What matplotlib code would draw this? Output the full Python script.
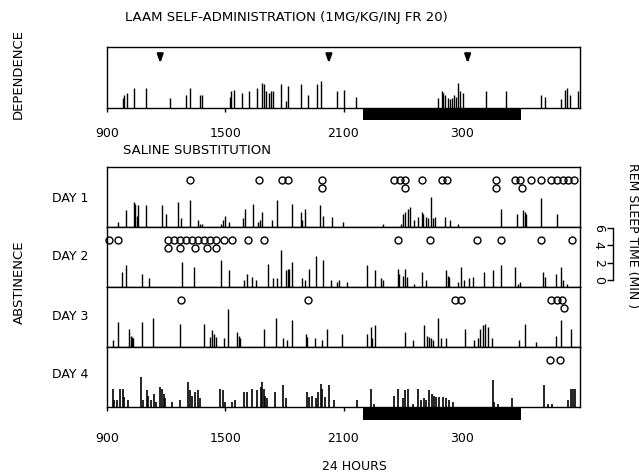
import matplotlib
matplotlib.use('Agg')
import matplotlib.pyplot as plt

# hours after 09:00, REM episode length in minutes
dep_t = [0.80, 0.87, 1.00, 1.37, 1.97, 3.21, 4.02, 4.19, 4.73, 4.80, 6.23, 6.31, 6.43, 6.84,
         7.21, 7.62, 7.84, 7.96, 8.07, 8.21, 8.33, 8.43, 8.82, 9.09, 9.19, 9.82, 10.18, 10.64,
         10.84, 11.65, 12.04, 12.65, 16.78, 16.98, 17.07, 17.17, 17.29, 17.39, 17.49, 17.59,
         17.69, 17.83, 17.93, 18.05, 19.24, 20.22, 22.00, 22.21, 23.05, 23.22, 23.36, 23.48, 23.90]
dep_h = [1.2, 1.5, 1.7, 2.3, 2.3, 1.1, 1.5, 2.3, 1.5, 1.5, 1.3, 1.9, 2.1, 1.7,
         1.9, 2.3, 2.9, 2.7, 1.9, 1.7, 1.9, 1.9, 2.7, 0.8, 2.5, 2.7, 1.5, 2.7,
         3.1, 1.9, 2.1, 1.3, 1.2, 1.9, 1.7, 1.5, 1.2, 1.0, 1.2, 1.5,
         1.3, 2.9, 1.9, 1.7, 1.9, 1.9, 1.5, 1.3, 1.0, 2.1, 2.3, 1.5, 1.9]
injections = [2.70, 11.26, 18.30]

day1_t = [0.58, 0.97, 1.37, 1.44, 1.51, 1.59, 1.98, 2.80, 2.97, 3.60, 3.78, 4.19, 4.60, 4.73,
          4.82, 5.78, 5.89, 5.99, 6.17, 6.90, 6.99, 7.41, 7.67, 7.74, 7.84, 8.38, 8.63, 9.40,
          9.82, 9.89, 10.03, 10.81, 10.98, 11.43, 11.99, 13.98, 14.91, 15.00, 15.12, 15.27,
          15.39, 15.59, 15.79, 15.96, 16.03, 16.18, 16.29, 16.42, 16.54, 16.62, 17.17, 17.39,
          17.80, 20.00, 20.82, 21.10, 21.19, 21.27, 22.00, 22.83]
day1_h = [0.6, 1.9, 2.9, 2.7, 1.3, 2.5, 2.5, 2.5, 1.5, 2.9, 1.0, 3.1, 0.8, 0.4,
          0.3, 0.4, 0.8, 1.3, 0.6, 1.0, 2.1, 2.7, 0.6, 0.8, 1.7, 0.8, 3.1, 2.7,
          1.7, 0.8, 2.1, 2.5, 1.3, 1.2, 0.6, 0.3, 0.4, 1.5, 1.7, 2.1,
          2.3, 0.8, 1.2, 1.7, 1.5, 1.2, 1.0, 3.5, 1.0, 1.2, 1.2, 0.8,
          0.4, 2.1, 1.5, 1.9, 1.7, 1.5, 3.3, 1.5]
day1_ct = [4.19, 7.72, 8.89, 9.19, 10.92, 10.92, 14.57, 14.86, 15.11, 15.11, 15.96, 16.98,
           17.24, 19.75, 19.75, 20.68, 20.98, 21.07, 21.53, 22.00, 22.54, 22.85, 23.14,
           23.39, 23.70]
day1_cl = [0, 0, 0, 0, 0, 1, 0, 0, 0, 1, 0, 0,
           0, 0, 1, 0, 0, 1, 0, 0, 0, 0, 0,
           0, 0]

day2_t = [0.75, 0.97, 1.76, 2.15, 3.80, 4.39, 5.78, 6.17, 6.94, 7.11, 7.36, 7.57, 8.18, 8.40,
          8.63, 8.84, 9.09, 9.18, 9.26, 9.40, 9.89, 10.03, 10.25, 10.59, 10.98, 11.38, 11.65,
          11.79, 12.16, 13.18, 13.59, 13.89, 13.98, 14.74, 14.83, 15.00, 15.12, 15.22, 15.59,
          15.96, 16.18, 17.20, 17.29, 17.37, 17.80, 17.96, 18.13, 18.35, 18.56, 19.15, 19.61,
          20.00, 20.68, 20.85, 20.98, 22.12, 22.21, 22.80, 23.05, 23.14, 23.34]
day2_h = [1.7, 2.5, 1.5, 1.0, 2.9, 2.3, 3.1, 1.9, 0.8, 1.5, 1.2, 0.8, 2.7, 1.0,
          1.0, 4.2, 1.9, 2.1, 2.1, 2.9, 1.0, 0.8, 2.1, 3.6, 3.1, 0.8, 0.6,
          0.8, 0.6, 2.5, 1.9, 1.0, 0.8, 2.1, 1.5, 1.3, 2.1, 1.2, 0.4,
          1.7, 0.8, 1.9, 1.3, 1.2, 0.6, 2.3, 0.8, 1.0, 1.2, 1.7, 1.9,
          2.5, 2.3, 0.4, 0.6, 1.7, 1.2, 1.5, 2.3, 0.8, 0.4]
day2_ct = [0.12, 0.54, 3.12, 3.41, 3.72, 4.02, 4.33, 4.63, 4.94, 5.24, 5.55, 5.95, 6.34,
           7.16, 7.96, 14.79, 16.39, 18.76, 19.97, 22.00, 23.60,
           3.12, 3.72, 4.44, 5.07, 5.55]
day2_cl = [0, 0, 0, 0, 0, 0, 0, 0, 0, 0, 0, 0, 0,
           0, 0, 0, 0, 0, 0, 0, 0,
           1, 1, 1, 1, 1]

day3_t = [0.29, 0.54, 1.12, 1.20, 1.29, 1.34, 1.76, 2.32, 3.72, 4.94, 5.24, 5.34, 5.41, 5.53,
          5.92, 6.14, 6.60, 6.70, 6.77, 7.96, 8.55, 8.94, 9.14, 9.38, 10.08, 10.16, 10.55,
          10.92, 11.15, 11.94, 13.18, 13.38, 13.47, 13.59, 15.13, 15.54, 16.10, 16.22, 16.35,
          16.44, 16.56, 16.78, 16.95, 17.20, 18.17, 18.64, 18.81, 18.93, 19.07, 19.19, 19.32,
          19.53, 20.93, 21.19, 21.78, 22.80, 23.02, 23.56]
day3_h = [0.8, 2.9, 2.1, 1.3, 1.2, 1.0, 2.9, 3.3, 2.7, 2.7, 1.2, 1.9, 1.5, 1.2,
          1.0, 4.4, 1.7, 1.3, 1.0, 2.1, 3.3, 1.0, 0.8, 3.1, 1.5, 1.2, 1.0,
          0.8, 2.1, 1.5, 1.5, 2.3, 1.0, 2.5, 1.7, 0.8, 2.5, 1.3, 1.2,
          1.0, 0.8, 3.3, 1.0, 1.0, 2.1, 0.8, 1.0, 2.1, 2.5, 2.7, 2.3,
          1.0, 0.8, 2.7, 0.6, 1.3, 3.1, 2.1]
day3_ct = [3.77, 10.20, 17.68, 17.96, 22.54, 22.83, 23.10, 23.19]
day3_cl = [0, 0, 0, 0, 0, 0, 0, 1]

day4_t = [0.29, 0.37, 0.49, 0.66, 0.80, 0.88, 1.09, 1.71, 1.82, 2.02, 2.10, 2.22, 2.36, 2.49,
          2.70, 2.78, 2.87, 2.95, 3.29, 3.72, 4.09, 4.19, 4.31, 4.48, 4.60, 4.70, 5.75, 5.89,
          5.97, 6.34, 6.51, 6.94, 7.11, 7.36, 7.62, 7.79, 7.87, 7.96, 8.04, 8.13, 8.52, 8.92,
          9.06, 10.13, 10.25, 10.38, 10.59, 10.70, 10.84, 10.92, 11.04, 11.26, 11.52, 12.71,
          13.42, 13.55, 14.54, 14.74, 15.00, 15.13, 15.27, 15.51, 15.76, 15.93, 16.06, 16.18,
          16.35, 16.47, 16.61, 16.69, 16.86, 17.03, 17.20, 17.37, 17.54, 19.58, 19.66, 19.83,
          20.54, 22.17, 22.38, 22.60, 23.39, 23.56, 23.65, 23.77]
day4_h = [2.1, 0.8, 0.8, 2.1, 2.1, 1.2, 0.8, 3.5, 0.8, 1.9, 1.3, 0.8, 1.5, 0.6,
          2.3, 2.1, 1.5, 1.0, 0.6, 0.8, 2.9, 1.9, 1.3, 1.7, 1.9, 1.0, 2.1, 1.9,
          0.6, 0.6, 0.8, 1.7, 1.7, 2.1, 1.9, 2.3, 2.9, 2.1, 1.3, 1.0, 1.7, 2.5,
          1.0, 1.7, 1.2, 1.3, 1.0, 1.7, 2.7, 2.1, 1.2, 2.5, 0.8, 0.8,
          2.1, 0.4, 1.3, 2.1, 1.0, 1.9, 2.1, 0.4, 2.1, 0.8, 1.0, 0.8,
          1.9, 1.5, 1.3, 1.2, 1.2, 1.2, 1.0, 0.8, 0.6, 3.1, 0.6, 0.4,
          1.0, 2.5, 0.4, 0.4, 0.8, 2.1, 2.1, 2.1]
day4_ct = [22.46, 22.97]
day4_cl = [0, 0]

dark_start, dark_end = 13.0, 21.0
hour_ticks = [0, 6, 12, 18]
hour_labels = ['900', '1500', '2100', '300']
day_names = ['DAY 1', 'DAY 2', 'DAY 3', 'DAY 4']

W, H = 639, 474
plt.rcParams['font.family'] = 'DejaVu Sans'
fig = plt.figure(figsize=(W / 100, H / 100), dpi=100)


def box(x0, y0, x1, y1):
    # pixel box (from top-left) -> figure fraction
    return [x0 / W, 1 - y1 / H, (x1 - x0) / W, (y1 - y0) / H]


def setup(ax, top):
    ax.set_xlim(0, 24)
    ax.set_ylim(0, top)
    ax.set_yticks([])
    for s in ax.spines.values():
        s.set_linewidth(1.0)
    ax.tick_params(axis='x', direction='out', length=3, width=1)


# dependence panel
ax = fig.add_axes(box(107, 47, 580, 108))
setup(ax, 7.0)
ax.vlines(dep_t, 0, dep_h, color='black', lw=1.0)
for t in injections:
    ax.annotate('', xy=(t, 4.8), xytext=(t, 6.3),
                arrowprops=dict(arrowstyle='-|>,head_length=0.7,head_width=0.25',
                                color='black', lw=1.6, mutation_scale=7))
ax.bar(dark_start, -1.4, width=dark_end - dark_start, align='edge', color='black',
       clip_on=False, zorder=5)
ax.set_xticks(hour_ticks)
ax.set_xticklabels(hour_labels, fontsize=9)
ax.tick_params(axis='x', pad=11)

# abstinence rows
rows = [(day1_t, day1_h, day1_ct, day1_cl), (day2_t, day2_h, day2_ct, day2_cl),
        (day3_t, day3_h, day3_ct, day3_cl), (day4_t, day4_h, day4_ct, day4_cl)]
for i, (t, h, ct, cl) in enumerate(rows):
    y0 = 167 + 60 * i
    ax = fig.add_axes(box(107, y0, 580, y0 + 60))
    setup(ax, 6.9)
    ax.vlines(t, 0, h, color='black', lw=1.2 if i == 3 else 1.0)
    ax.plot(ct, [5.4 - 0.9 * c for c in cl], 'o', mfc='none', mec='black', ms=5, mew=1.0,
            clip_on=False)
    fig.text(52 / W, 1 - (198 + 59 * i) / H, day_names[i], fontsize=9, va='center')
    if i < 3:
        ax.set_xticks([])
    else:
        ax.bar(dark_start, -1.45, width=dark_end - dark_start, align='edge', color='black',
               clip_on=False, zorder=5)
        ax.set_xticks(hour_ticks)
        ax.set_xticklabels(hour_labels, fontsize=9)
        ax.tick_params(axis='x', pad=15)

# REM minutes scale
sc = fig.add_axes(box(613, 228, 620, 280))
sc.set_ylim(0, 6)
sc.set_xticks([])
for k in ['top', 'right', 'bottom']:
    sc.spines[k].set_visible(False)
sc.spines['left'].set_linewidth(1.0)
sc.set_yticks([0, 2, 4, 6])
sc.set_yticklabels(['0', '2', '4', '6'], rotation=-90, fontsize=9, va='center')
sc.tick_params(axis='y', direction='out', length=4, width=1, pad=2)
sc.patch.set_visible(False)

fig.text(125 / W, 1 - 17 / H, 'LAAM SELF-ADMINISTRATION (1MG/KG/INJ FR 20)', fontsize=9.5,
         va='center')
fig.text(18 / W, 1 - 74 / H, 'DEPENDENCE', fontsize=9.5, rotation=90, ha='center', va='center')
fig.text(123 / W, 1 - 150 / H, 'SALINE SUBSTITUTION', fontsize=9.5, va='center')
fig.text(19 / W, 1 - 282 / H, 'ABSTINENCE', fontsize=9.5, rotation=90, ha='center', va='center')
fig.text(632 / W, 1 - 236 / H, 'REM SLEEP TIME (MIN )', fontsize=9, rotation=-90,
         ha='center', va='center')
fig.text(354 / W, 1 - 467 / H, '24 HOURS', fontsize=9, ha='center', va='center')

fig.savefig('out.png', dpi=100)
